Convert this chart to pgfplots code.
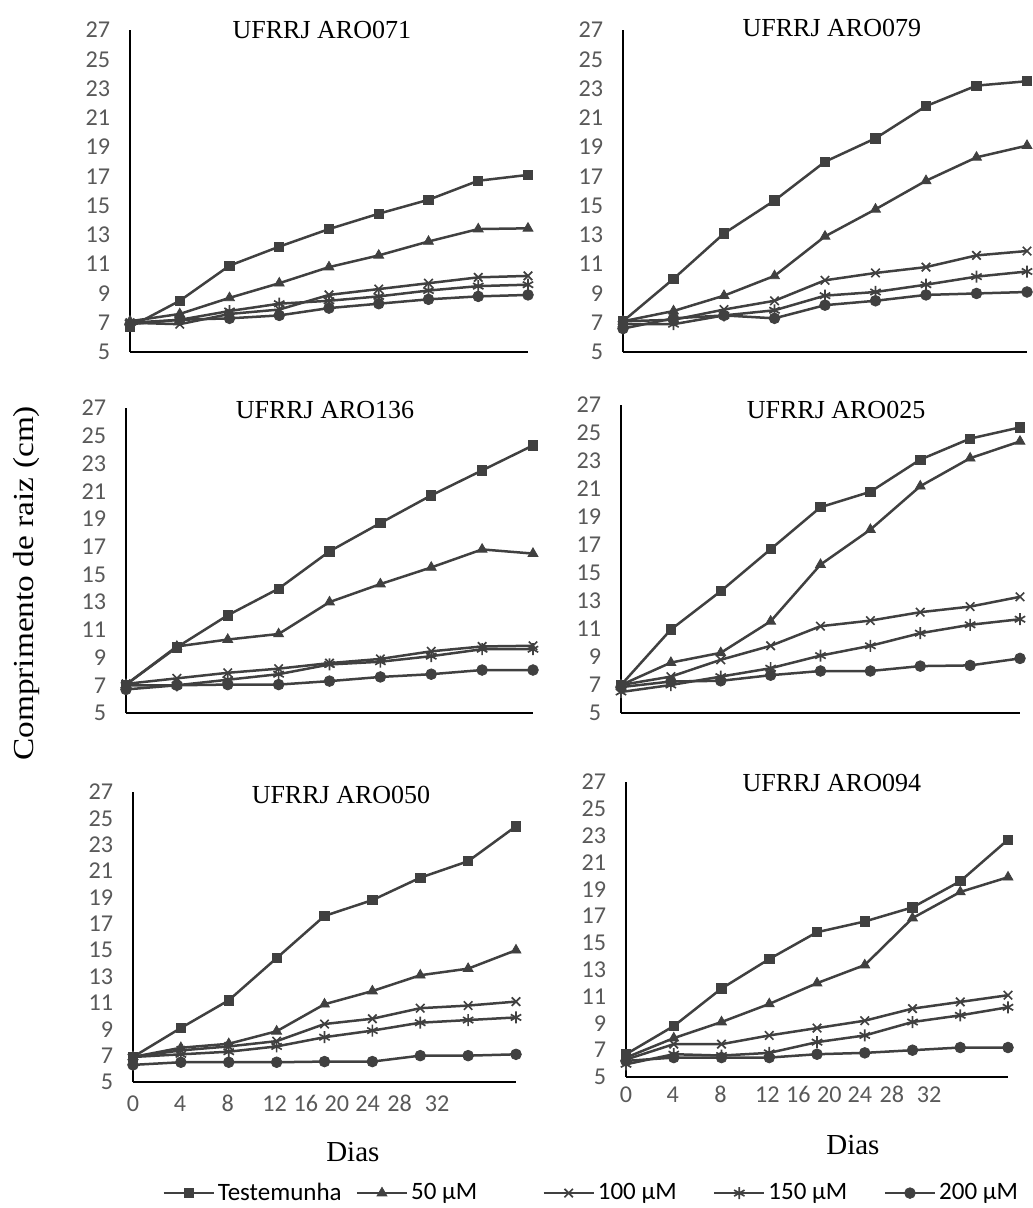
\documentclass[border=0pt]{standalone}
\usepackage{pgfplots}
\pgfplotsset{compat=1.18}
\usepackage{pgfplotstable}
\usepackage{fontspec}
\setmainfont{Liberation Serif}
\newfontfamily\calibri{Carlito}
\definecolor{lc}{HTML}{404040}
\definecolor{tg}{HTML}{595959}
\newcommand\tickfont{\calibri\fontsize{14.5}{16}\selectfont}
\newcommand\legfont{\calibri\fontsize{15}{17}\selectfont}
\newcommand\titlefont{\fontsize{15.6}{18}\selectfont}
\newcommand\labfont{\fontsize{17.4}{20}\selectfont}

\pgfplotstableread{
x T a b c d
0 6.7 7.1 7.0 7.0 6.9
1 8.5 7.6 6.9 7.2 7.2
2 10.9 8.7 7.6 7.8 7.3
3 12.2 9.7 7.9 8.3 7.5
4 13.4 10.8 8.9 8.5 8.0
5 14.45 11.6 9.3 8.8 8.3
6 15.4 12.55 9.7 9.2 8.6
7 16.7 13.4 10.1 9.5 8.8
8 17.1 13.45 10.2 9.6 8.9
}\tA
\pgfplotstableread{
x T a b c d
0 7.1 7.1 7.1 6.9 6.6
1 10.0 7.8 7.2 6.9 7.3
2 13.1 8.85 7.9 7.5 7.5
3 15.35 10.2 8.5 7.85 7.3
4 18.0 12.9 9.9 8.85 8.2
5 19.6 14.75 10.4 9.1 8.5
6 21.8 16.7 10.8 9.6 8.9
7 23.2 18.3 11.6 10.15 9.0
8 23.5 19.1 11.9 10.5 9.1
}\tB
\pgfplotstableread{
x T a b c d
0 7.05 7.05 7.1 7.0 6.7
1 9.74 9.8 7.5 7.0 7.0
2 12.05 10.3 7.9 7.4 7.05
3 13.97 10.7 8.2 7.8 7.05
4 16.66 13.0 8.6 8.5 7.3
5 18.7 14.3 8.9 8.7 7.6
6 20.7 15.5 9.45 9.1 7.8
7 22.5 16.8 9.8 9.6 8.1
8 24.3 16.5 9.85 9.6 8.1
}\tC
\pgfplotstableread{
x T a b c d
0 7.0 7.0 7.0 6.5 6.85
1 10.96 8.6 7.6 7.0 7.25
2 13.7 9.3 8.8 7.6 7.3
3 16.7 11.55 9.8 8.2 7.7
4 19.7 15.6 11.2 9.1 8.0
5 20.8 18.1 11.6 9.8 8.0
6 23.1 21.2 12.2 10.7 8.35
7 24.6 23.2 12.6 11.3 8.4
8 25.4 24.4 13.3 11.7 8.9
}\tD
\pgfplotstableread{
x T a b c d
0 6.9 6.9 6.9 6.9 6.3
1 9.1 7.6 7.4 7.1 6.5
2 11.2 7.9 7.7 7.3 6.5
3 14.4 8.85 8.1 7.7 6.5
4 17.6 10.9 9.4 8.4 6.55
5 18.8 11.9 9.8 8.9 6.55
6 20.5 13.1 10.6 9.5 7.0
7 21.75 13.6 10.8 9.7 7.0
8 24.4 15.0 11.1 9.9 7.1
}\tE
\pgfplotstableread{
x T a b c d
0 6.7 6.45 6.3 5.95 6.2
1 8.8 7.9 7.45 6.7 6.45
2 11.6 9.1 7.45 6.6 6.45
3 13.8 10.45 8.1 6.8 6.45
4 15.8 12.0 8.65 7.6 6.7
5 16.6 13.35 9.2 8.1 6.8
6 17.65 16.85 10.1 9.1 7.0
7 19.6 18.8 10.6 9.6 7.2
8 22.7 19.9 11.1 10.2 7.2
}\tF

\pgfplotsset{
  panel/.style={
    scale only axis, anchor=south west,
    xmin=0, xmax=8, ymin=5, ymax=27,
    ytick={5,7,...,27},
    xtick=\empty,
    axis x line*=bottom, axis y line*=left,
    axis line style={black, line width=1.1pt},
    major tick length=0pt,
    clip=false,
    tick label style={font=\tickfont, text=tg},
    /pgf/number format/assume math mode=true,
    yticklabel style={xshift=-8.4pt},
    xticklabel style={text height=1.5ex, text depth=0pt},
    every axis title shift=0pt,
    title style={font=\titlefont, anchor=center},
    xlabel style={font=\labfont, anchor=center},
    every axis plot/.append style={line width=1.5pt},
    cycle list={
      {lc, mark=square*, mark size=2.8pt, mark options={line width=0.5pt}},
      {lc, mark=triangle*, mark size=3.4pt, mark options={line width=0.5pt}},
      {lc, mark=x, mark size=3.6pt, mark options={line width=1pt}},
      {lc, mark=asterisk, mark size=3.6pt, mark options={line width=1pt}},
      {lc, mark=*, mark size=3.2pt, mark options={line width=0.5pt}}
    },
  },
  bottompanel/.style={
    xtick={0,0.98,1.98,2.96,3.61,4.26,4.9,5.57,6.35},
    xticklabels={0,4,8,12,16,20,24,28,32},
    xlabel={Dias},
  },
}

\begin{document}
\begin{tikzpicture}
\path[use as bounding box] (0pt,0pt) rectangle (619.2pt,-724.8pt);

\begin{axis}[panel, at={(78pt,-211.2pt)}, width=238.8pt, height=193.2pt,
  title={UFRRJ ARO071}, title style={at={(axis description cs:0.482,1.0)}}]
\addplot table[x=x,y=T]{\tA};
\addplot table[x=x,y=a]{\tA};
\addplot table[x=x,y=b]{\tA};
\addplot table[x=x,y=c]{\tA};
\addplot table[x=x,y=d]{\tA};
\end{axis}

\begin{axis}[panel, at={(373.8pt,-211.2pt)}, width=242.4pt, height=193.2pt,
  title={UFRRJ ARO079}, title style={at={(axis description cs:0.517,1.006)}}]
\addplot table[x=x,y=T]{\tB};
\addplot table[x=x,y=a]{\tB};
\addplot table[x=x,y=b]{\tB};
\addplot table[x=x,y=c]{\tB};
\addplot table[x=x,y=d]{\tB};
\end{axis}

\begin{axis}[panel, at={(75.6pt,-427.8pt)}, width=244.2pt, height=183pt,
  title={UFRRJ ARO136}, title style={at={(axis description cs:0.489,0.993)}}]
\addplot table[x=x,y=T]{\tC};
\addplot table[x=x,y=a]{\tC};
\addplot table[x=x,y=b]{\tC};
\addplot table[x=x,y=c]{\tC};
\addplot table[x=x,y=d]{\tC};
\end{axis}

\begin{axis}[panel, at={(372.6pt,-427.8pt)}, width=239.4pt, height=184.8pt,
  title={UFRRJ ARO025}, title style={at={(axis description cs:0.539,0.984)}}]
\addplot table[x=x,y=T]{\tD};
\addplot table[x=x,y=a]{\tD};
\addplot table[x=x,y=b]{\tD};
\addplot table[x=x,y=c]{\tD};
\addplot table[x=x,y=d]{\tD};
\end{axis}

\begin{axis}[panel, bottompanel, at={(79.8pt,-649.2pt)}, width=229.8pt, height=174pt,
  xticklabel style={yshift=-7pt},
  xlabel style={at={(axis description cs:0.574,-0.241)}},
  title={UFRRJ ARO050}, title style={at={(axis description cs:0.543,0.99)}},
  legend style={at={(axis description cs:0.077,-0.383)}, anchor=west, draw=none, fill=none,
    legend columns=5, font=\legfont, inner sep=0pt,
    /tikz/every even column/.append style={column sep=10pt}},
  legend image code/.code={\draw[mark repeat=2,mark phase=2,#1,line width=1pt] plot coordinates {(0pt,0pt) (15pt,0pt) (30pt,0pt)};}]
\addplot table[x=x,y=T]{\tE};
\addplot table[x=x,y=a]{\tE};
\addplot table[x=x,y=b]{\tE};
\addplot table[x=x,y=c]{\tE};
\addplot table[x=x,y=d]{\tE};
\addlegendentry{\makebox[71pt][l]{Testemunha}}
\addlegendentry{\makebox[67pt][l]{50 µM}}
\addlegendentry{\makebox[57.4pt][l]{100 µM}}
\addlegendentry{\makebox[57.4pt][l]{150 µM}}
\addlegendentry{200 µM}
\end{axis}

\begin{axis}[panel, bottompanel, at={(375.6pt,-646.2pt)}, width=229.2pt, height=177pt,
  xticklabel style={yshift=-5pt},
  xlabel style={at={(axis description cs:0.594,-0.23)}},
  title={UFRRJ ARO094}, title style={at={(axis description cs:0.539,0.997)}}]
\addplot table[x=x,y=T]{\tF};
\addplot table[x=x,y=a]{\tF};
\addplot table[x=x,y=b]{\tF};
\addplot table[x=x,y=c]{\tF};
\addplot table[x=x,y=d]{\tF};
\end{axis}

\node[rotate=90, font=\labfont, anchor=center] at (16.2pt,-350pt) {\scalebox{1.15}[1]{Comprimento de raiz (cm)}};
\end{tikzpicture}
\end{document}
